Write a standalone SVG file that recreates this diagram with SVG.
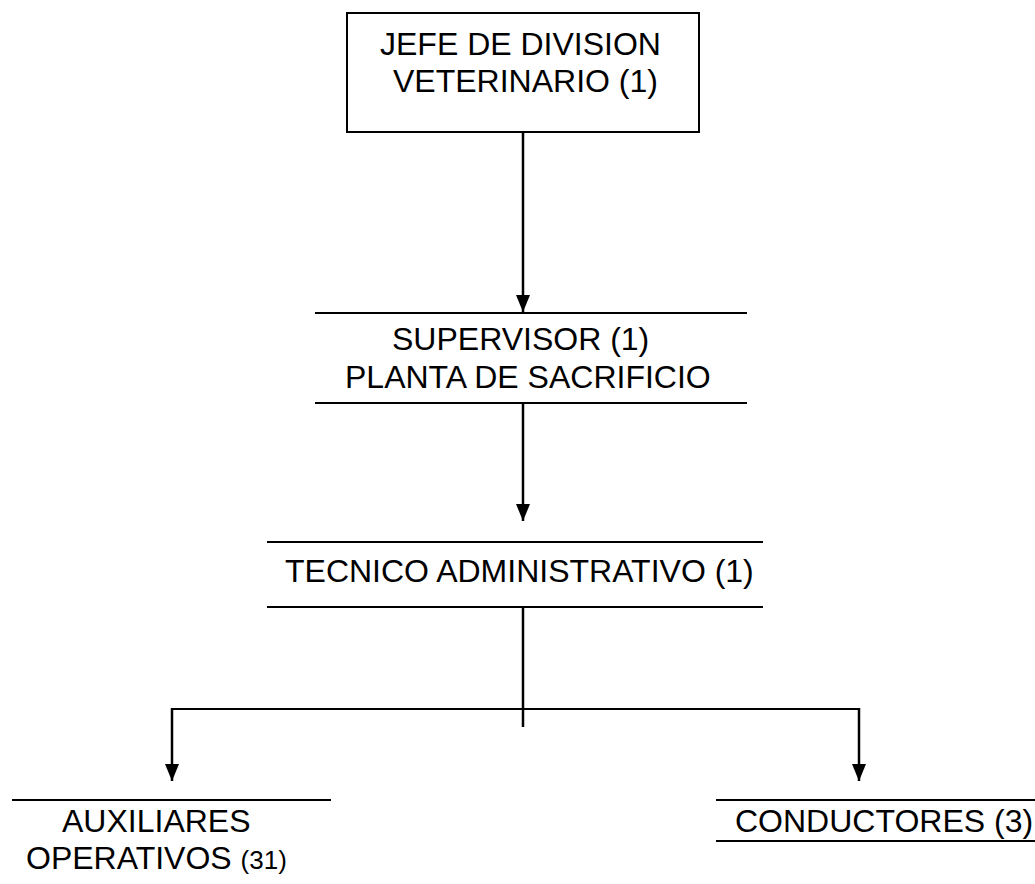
<svg xmlns="http://www.w3.org/2000/svg" width="1035" height="884" viewBox="0 0 1035 884">
  <style>
    .label { font-family: "Liberation Sans", Arial, sans-serif; font-size: 32px; fill: #000; }
    .small { font-size: 26px; }
    .rule { stroke: #000; stroke-width: 2; fill: none; }
    .link { stroke: #000; stroke-width: 2.5; fill: none; }
  </style>
  <defs>
    <marker id="arrow" markerUnits="userSpaceOnUse" markerWidth="17" markerHeight="15" viewBox="0 0 17 15" refX="17" refY="7.5" orient="auto">
      <path d="M0,0.5 L17,7.5 L0,14.5 Z" fill="#000"/>
    </marker>
  </defs>
  <rect width="1035" height="884" fill="#fff"/>

  <!-- connectors -->
  <g id="connectors">
    <line class="link" x1="523" y1="132" x2="523" y2="312" marker-end="url(#arrow)"/>
    <line class="link" x1="523" y1="403" x2="523" y2="521" marker-end="url(#arrow)"/>
    <line class="link" x1="523" y1="607" x2="523" y2="727"/>
    <line class="rule" x1="171" y1="709" x2="860" y2="709"/>
    <line class="link" x1="172" y1="708" x2="172" y2="781" marker-end="url(#arrow)"/>
    <line class="link" x1="859" y1="708" x2="859" y2="781" marker-end="url(#arrow)"/>
  </g>

  <!-- head of division -->
  <g id="jefe">
    <rect class="rule" x="347" y="13" width="352" height="119"/>
    <text class="label" x="380" y="55">JEFE DE DIVISION</text>
    <text class="label" x="393" y="92">VETERINARIO (1)</text>
  </g>

  <!-- supervisor -->
  <g id="supervisor">
    <line class="rule" x1="315" y1="313" x2="747" y2="313"/>
    <line class="rule" x1="315" y1="403" x2="747" y2="403"/>
    <text class="label" x="392" y="350">SUPERVISOR (1)</text>
    <text class="label" x="345" y="388">PLANTA DE SACRIFICIO</text>
  </g>

  <!-- administrative technician -->
  <g id="tecnico">
    <line class="rule" x1="267" y1="542" x2="763" y2="542"/>
    <line class="rule" x1="267" y1="607" x2="763" y2="607"/>
    <text class="label" x="285" y="582">TECNICO ADMINISTRATIVO (1)</text>
  </g>

  <!-- operational assistants -->
  <g id="auxiliares">
    <line class="rule" x1="12" y1="800" x2="331" y2="800"/>
    <text class="label" x="62" y="832">AUXILIARES</text>
    <text class="label" x="26" y="869">OPERATIVOS <tspan class="small">(31)</tspan></text>
  </g>

  <!-- drivers -->
  <g id="conductores">
    <line class="rule" x1="716" y1="800" x2="1035" y2="800"/>
    <line class="rule" x1="716" y1="841" x2="1035" y2="841"/>
    <text class="label" x="735" y="832">CONDUCTORES (3)</text>
  </g>
</svg>
